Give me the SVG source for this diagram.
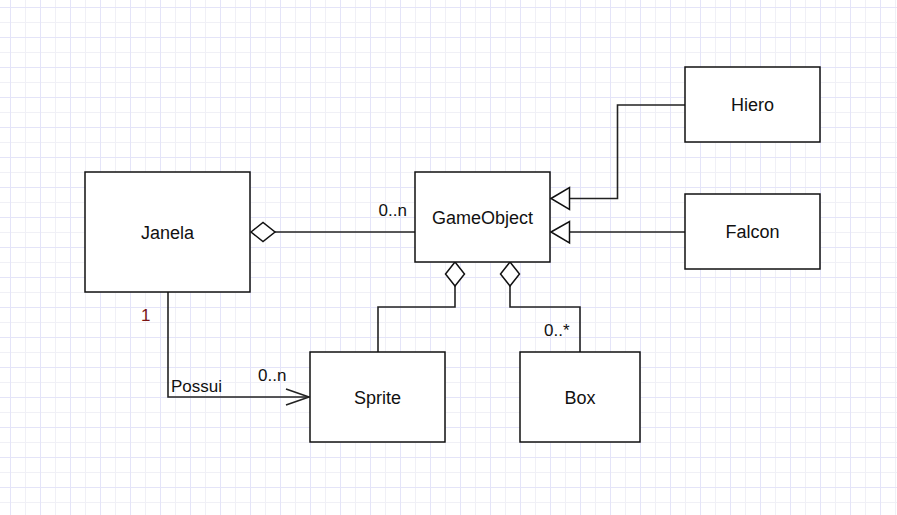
<svg xmlns="http://www.w3.org/2000/svg" width="897" height="515" viewBox="0 0 897 515">
  <defs>
    <pattern id="grid" patternUnits="userSpaceOnUse" x="10" y="7" width="30" height="30">
      <rect x="15" y="0" width="1" height="30" fill="#f0f0f6"/>
      <rect x="0" y="15" width="30" height="1" fill="#f0f0f6"/>
      <rect x="0" y="0" width="1" height="30" fill="#e4e4f8"/>
      <rect x="0" y="0" width="30" height="1" fill="#e4e4f8"/>
    </pattern>
    <style>
      .node rect { fill: #ffffff; stroke: #111111; stroke-width: 1.5; }
      .node text { font-family: "Liberation Sans", Arial, sans-serif; font-size: 18px; fill: #111111; text-anchor: middle; }
      .edge { fill: none; stroke: #222222; stroke-width: 1.6; }
      .diamond { fill: #ffffff; stroke: #111111; stroke-width: 1.5; }
      .tri { fill: #ffffff; stroke: #111111; stroke-width: 1.5; }
      .lbl { font-family: "Liberation Sans", Arial, sans-serif; font-size: 17px; fill: #111111; }
    </style>
  </defs>
  <rect x="0" y="0" width="897" height="515" fill="#ffffff"/>
  <rect x="0" y="0" width="897" height="515" fill="url(#grid)"/>

  <g id="connectors">
    <!-- Janela <> GameObject -->
    <path class="edge" d="M275 232 H415"/>
    <polygon class="diamond" points="251,232 263,222.5 275,232 263,241.5"/>
    <text class="lbl" x="378.5" y="216">0..n</text>
    <!-- Janela -> Sprite -->
    <path class="edge" d="M168 292 V397 H309"/>
    <path class="edge" d="M286 389 L309 397 L286 405"/>
    <text class="lbl" x="171" y="392">Possui</text>
    <text class="lbl" x="258" y="381">0..n</text>
    <text class="lbl" x="141" y="321" style="fill:#7a1414">1</text>
    <!-- GameObject <> Sprite -->
    <path class="edge" d="M455 286 V307 H378 V352"/>
    <polygon class="diamond" points="455,262 464.5,274 455,286 445.5,274"/>
    <!-- GameObject <> Box -->
    <path class="edge" d="M510 286 V307 H580 V352"/>
    <polygon class="diamond" points="510,262 519.5,274 510,286 500.5,274"/>
    <text class="lbl" x="544" y="336">0..*</text>
    <!-- Hiero -> GameObject -->
    <path class="edge" d="M685 105 H617.5 V198.5 H569.5"/>
    <polygon class="tri" points="551,198.5 569.5,187.5 569.5,209.5"/>
    <!-- Falcon -> GameObject -->
    <path class="edge" d="M685 232 H569.5"/>
    <polygon class="tri" points="551,232 569.5,221.5 569.5,243"/>
  </g>

  <g id="janela" class="node">
    <rect x="85" y="172" width="165" height="120"/>
    <text x="167.5" y="238.5">Janela</text>
  </g>
  <g id="gameobject" class="node">
    <rect x="415" y="172" width="135" height="90"/>
    <text x="482.5" y="224">GameObject</text>
  </g>
  <g id="hiero" class="node">
    <rect x="685" y="67" width="135" height="75"/>
    <text x="752.5" y="111">Hiero</text>
  </g>
  <g id="falcon" class="node">
    <rect x="685" y="194" width="135" height="75"/>
    <text x="752.5" y="238">Falcon</text>
  </g>
  <g id="sprite" class="node">
    <rect x="310" y="352" width="135" height="90"/>
    <text x="377.5" y="403.5">Sprite</text>
  </g>
  <g id="box" class="node">
    <rect x="520" y="352" width="120" height="90"/>
    <text x="580" y="403.5">Box</text>
  </g>
</svg>
